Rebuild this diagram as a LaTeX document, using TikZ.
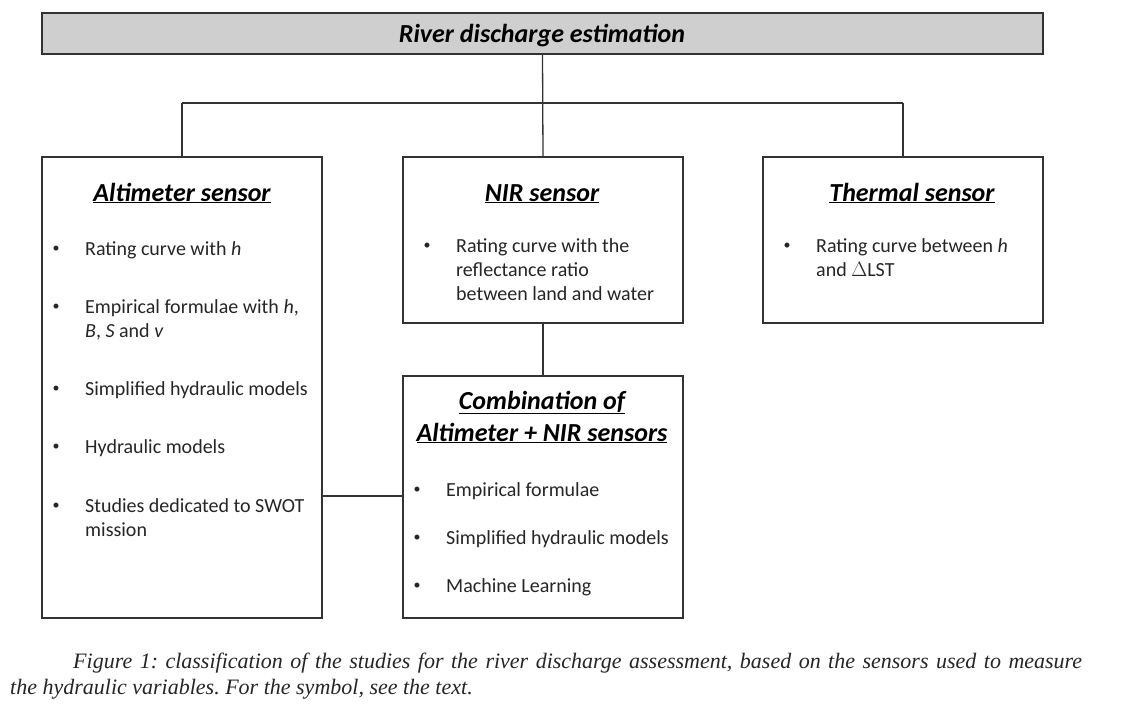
\documentclass[tikz,border=0pt]{standalone}
\usepackage{fontspec}
\setmainfont{Carlito}
\newfontfamily\capfont{Liberation Serif}
\begin{document}
\begin{tikzpicture}[x=1pt,y=-1pt,
  ln/.style={draw=black!80, line width=1.3pt},
  box/.style={ln, anchor=north west, inner sep=0pt, outer sep=0pt},
  hdr/.style={font=\fontsize{26}{30}\selectfont\bfseries\itshape, anchor=base, inner sep=0pt, text=black},
  itm/.style={font=\fontsize{20}{24}\selectfont, anchor=base west, inner sep=0pt, text=black!85},
  bul/.style={font=\fontsize{14}{16}\selectfont, anchor=center, inner sep=0pt, text=black!85, yshift=6pt},
  captxt/.style={font=\capfont\itshape\fontsize{22}{26}\selectfont\frenchspacing, anchor=base west, inner sep=0pt, text=black!85}
]
\useasboundingbox[fill=white] (0,0) rectangle (1124,720);

% boxes
\node[box, fill=black!19, minimum width=1001pt, minimum height=41pt] (top) at (42,13) {};
\node[box, minimum width=280pt, minimum height=461pt] (alt) at (42,157) {};
\node[box, minimum width=280pt, minimum height=166pt] (nir) at (403,157) {};
\node[box, minimum width=280pt, minimum height=166pt] (thm) at (763,157) {};
\node[box, minimum width=280pt, minimum height=242pt] (cmb) at (403,376) {};

% connectors
\coordinate (hL) at (182,103);
\coordinate (hR) at (903,103);
\draw[ln] (top.south) -- (nir.north);
\draw[ln] (hL) -- (hR);
\draw[ln] (hL) -- (alt.north -| hL);
\draw[ln] (hR) -- (thm.north -| hR);
\draw[ln] (nir.south) -- (cmb.north);
\draw[ln] (alt.east |- 0,496) -- (cmb.west |- 0,496);

% title
\node[hdr] (ttl) at (542,42) {River discharge estimation};

% Altimeter
\node[hdr] (altH) at (182,201) {\underline{Altimeter sensor}};
\node[bul] (a1b) at (56,255) {•};
\node[itm] (a1) at (85,255) {Rating curve with \textit{h}};
\node[bul] (a2b) at (56,313) {•};
\node[itm] (a2) at (85,313) {Empirical formulae with \textit{h},};
\node[itm] (a2l) at (85,337) {\textit{B}, \textit{S} and \textit{v}};
\node[bul] (a3b) at (56,395) {•};
\node[itm] (a3) at (85,395) {Simplified hydraulic models};
\node[bul] (a4b) at (56,453) {•};
\node[itm] (a4) at (85,453) {Hydraulic models};
\node[bul] (a5b) at (56,512) {•};
\node[itm] (a5) at (85,512) {Studies dedicated to SWOT};
\node[itm] (a5l) at (85,536) {mission};

% NIR
\node[hdr] (nirH) at (542,201) {\underline{NIR sensor}};
\node[bul] (n1b) at (427,252) {•};
\node[itm] (n1) at (456,252) {Rating curve with the};
\node[itm] (n1l) at (456,276) {reflectance ratio};
\node[itm] (n1m) at (456,300) {between land and water};

% Thermal
\node[hdr] (thmH) at (912,201) {\underline{Thermal sensor}};
\node[bul] (t1b) at (787,252) {•};
\node[itm] (t1) at (816,252) {Rating curve between \textit{h}};
\node[itm] (t1l) at (816,276) {and $\Delta$LST};

% Combination
\node[hdr] (cmbH) at (542,409) {\underline{Combination of}};
\node[hdr] (cmbH2) at (542,441) {\underline{Altimeter + NIR sensors}};
\node[bul] (c1b) at (417,496) {•};
\node[itm] (c1) at (446,496) {Empirical formulae};
\node[bul] (c2b) at (417,544) {•};
\node[itm] (c2) at (446,544) {Simplified hydraulic models};
\node[bul] (c3b) at (417,592) {•};
\node[itm] (c3) at (446,592) {Machine Learning};

% caption
\node[captxt] (cap1) at (73,668) {\hbox to 1009pt{Figure 1: classification of the studies for the river discharge assessment, based on the sensors used to measure}};
\node[captxt] (cap2) at (10,694) {the hydraulic variables. For the symbol, see the text.};
\end{tikzpicture}
\end{document}
